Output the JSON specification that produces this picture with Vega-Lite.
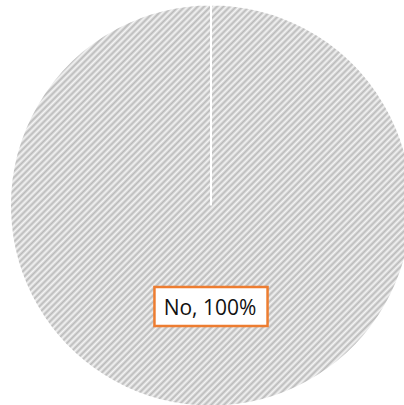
{
  "$schema": "https://vega.github.io/schema/vega-lite/v6.json",
  "autosize": {"type": "none"},
  "width": 386,
  "height": 399,
  "padding": {"left": 18, "top": 6, "right": 0, "bottom": 0},
  "background": "white",
  "config": {"view": {"stroke": null}},
  "data": {"values": [{"answer": "No", "share": 100, "label": "No, 100%"}]},
  "layer": [
    {
      "mark": {
        "type": "arc",
        "outerRadius": 201,
        "stroke": "white",
        "strokeWidth": 2,
        "fill": {
          "gradient": "linear",
          "x1": 0, "y1": 0, "x2": 1, "y2": 1,
          "stops": [
            {"offset": 0, "color": "#f4f4f4"},{"offset": 0.004, "color": "#bababa"},{"offset": 0.008, "color": "#f4f4f4"},{"offset": 0.012, "color": "#bababa"},{"offset": 0.016, "color": "#f4f4f4"},{"offset": 0.02, "color": "#bababa"},{"offset": 0.024, "color": "#f4f4f4"},{"offset": 0.028, "color": "#bababa"},{"offset": 0.032, "color": "#f4f4f4"},{"offset": 0.036, "color": "#bababa"},
            {"offset": 0.04, "color": "#f4f4f4"},{"offset": 0.044, "color": "#bababa"},{"offset": 0.048, "color": "#f4f4f4"},{"offset": 0.052, "color": "#bababa"},{"offset": 0.056, "color": "#f4f4f4"},{"offset": 0.06, "color": "#bababa"},{"offset": 0.064, "color": "#f4f4f4"},{"offset": 0.068, "color": "#bababa"},{"offset": 0.072, "color": "#f4f4f4"},{"offset": 0.076, "color": "#bababa"},
            {"offset": 0.08, "color": "#f4f4f4"},{"offset": 0.084, "color": "#bababa"},{"offset": 0.088, "color": "#f4f4f4"},{"offset": 0.092, "color": "#bababa"},{"offset": 0.096, "color": "#f4f4f4"},{"offset": 0.1, "color": "#bababa"},{"offset": 0.104, "color": "#f4f4f4"},{"offset": 0.108, "color": "#bababa"},{"offset": 0.112, "color": "#f4f4f4"},{"offset": 0.116, "color": "#bababa"},
            {"offset": 0.12, "color": "#f4f4f4"},{"offset": 0.124, "color": "#bababa"},{"offset": 0.128, "color": "#f4f4f4"},{"offset": 0.132, "color": "#bababa"},{"offset": 0.136, "color": "#f4f4f4"},{"offset": 0.14, "color": "#bababa"},{"offset": 0.144, "color": "#f4f4f4"},{"offset": 0.148, "color": "#bababa"},{"offset": 0.152, "color": "#f4f4f4"},{"offset": 0.156, "color": "#bababa"},
            {"offset": 0.16, "color": "#f4f4f4"},{"offset": 0.164, "color": "#bababa"},{"offset": 0.168, "color": "#f4f4f4"},{"offset": 0.172, "color": "#bababa"},{"offset": 0.176, "color": "#f4f4f4"},{"offset": 0.18, "color": "#bababa"},{"offset": 0.184, "color": "#f4f4f4"},{"offset": 0.188, "color": "#bababa"},{"offset": 0.192, "color": "#f4f4f4"},{"offset": 0.196, "color": "#bababa"},
            {"offset": 0.2, "color": "#f4f4f4"},{"offset": 0.204, "color": "#bababa"},{"offset": 0.208, "color": "#f4f4f4"},{"offset": 0.212, "color": "#bababa"},{"offset": 0.216, "color": "#f4f4f4"},{"offset": 0.22, "color": "#bababa"},{"offset": 0.224, "color": "#f4f4f4"},{"offset": 0.228, "color": "#bababa"},{"offset": 0.232, "color": "#f4f4f4"},{"offset": 0.236, "color": "#bababa"},
            {"offset": 0.24, "color": "#f4f4f4"},{"offset": 0.244, "color": "#bababa"},{"offset": 0.248, "color": "#f4f4f4"},{"offset": 0.252, "color": "#bababa"},{"offset": 0.256, "color": "#f4f4f4"},{"offset": 0.26, "color": "#bababa"},{"offset": 0.264, "color": "#f4f4f4"},{"offset": 0.268, "color": "#bababa"},{"offset": 0.272, "color": "#f4f4f4"},{"offset": 0.276, "color": "#bababa"},
            {"offset": 0.28, "color": "#f4f4f4"},{"offset": 0.284, "color": "#bababa"},{"offset": 0.288, "color": "#f4f4f4"},{"offset": 0.292, "color": "#bababa"},{"offset": 0.296, "color": "#f4f4f4"},{"offset": 0.3, "color": "#bababa"},{"offset": 0.304, "color": "#f4f4f4"},{"offset": 0.308, "color": "#bababa"},{"offset": 0.312, "color": "#f4f4f4"},{"offset": 0.316, "color": "#bababa"},
            {"offset": 0.32, "color": "#f4f4f4"},{"offset": 0.324, "color": "#bababa"},{"offset": 0.328, "color": "#f4f4f4"},{"offset": 0.332, "color": "#bababa"},{"offset": 0.336, "color": "#f4f4f4"},{"offset": 0.34, "color": "#bababa"},{"offset": 0.344, "color": "#f4f4f4"},{"offset": 0.348, "color": "#bababa"},{"offset": 0.352, "color": "#f4f4f4"},{"offset": 0.356, "color": "#bababa"},
            {"offset": 0.36, "color": "#f4f4f4"},{"offset": 0.364, "color": "#bababa"},{"offset": 0.368, "color": "#f4f4f4"},{"offset": 0.372, "color": "#bababa"},{"offset": 0.376, "color": "#f4f4f4"},{"offset": 0.38, "color": "#bababa"},{"offset": 0.384, "color": "#f4f4f4"},{"offset": 0.388, "color": "#bababa"},{"offset": 0.392, "color": "#f4f4f4"},{"offset": 0.396, "color": "#bababa"},
            {"offset": 0.4, "color": "#f4f4f4"},{"offset": 0.404, "color": "#bababa"},{"offset": 0.408, "color": "#f4f4f4"},{"offset": 0.412, "color": "#bababa"},{"offset": 0.416, "color": "#f4f4f4"},{"offset": 0.42, "color": "#bababa"},{"offset": 0.424, "color": "#f4f4f4"},{"offset": 0.428, "color": "#bababa"},{"offset": 0.432, "color": "#f4f4f4"},{"offset": 0.436, "color": "#bababa"},
            {"offset": 0.44, "color": "#f4f4f4"},{"offset": 0.444, "color": "#bababa"},{"offset": 0.448, "color": "#f4f4f4"},{"offset": 0.452, "color": "#bababa"},{"offset": 0.456, "color": "#f4f4f4"},{"offset": 0.46, "color": "#bababa"},{"offset": 0.464, "color": "#f4f4f4"},{"offset": 0.468, "color": "#bababa"},{"offset": 0.472, "color": "#f4f4f4"},{"offset": 0.476, "color": "#bababa"},
            {"offset": 0.48, "color": "#f4f4f4"},{"offset": 0.484, "color": "#bababa"},{"offset": 0.488, "color": "#f4f4f4"},{"offset": 0.492, "color": "#bababa"},{"offset": 0.496, "color": "#f4f4f4"},{"offset": 0.5, "color": "#bababa"},{"offset": 0.504, "color": "#f4f4f4"},{"offset": 0.508, "color": "#bababa"},{"offset": 0.512, "color": "#f4f4f4"},{"offset": 0.516, "color": "#bababa"},
            {"offset": 0.52, "color": "#f4f4f4"},{"offset": 0.524, "color": "#bababa"},{"offset": 0.528, "color": "#f4f4f4"},{"offset": 0.532, "color": "#bababa"},{"offset": 0.536, "color": "#f4f4f4"},{"offset": 0.54, "color": "#bababa"},{"offset": 0.544, "color": "#f4f4f4"},{"offset": 0.548, "color": "#bababa"},{"offset": 0.552, "color": "#f4f4f4"},{"offset": 0.556, "color": "#bababa"},
            {"offset": 0.56, "color": "#f4f4f4"},{"offset": 0.564, "color": "#bababa"},{"offset": 0.568, "color": "#f4f4f4"},{"offset": 0.572, "color": "#bababa"},{"offset": 0.576, "color": "#f4f4f4"},{"offset": 0.58, "color": "#bababa"},{"offset": 0.584, "color": "#f4f4f4"},{"offset": 0.588, "color": "#bababa"},{"offset": 0.592, "color": "#f4f4f4"},{"offset": 0.596, "color": "#bababa"},
            {"offset": 0.6, "color": "#f4f4f4"},{"offset": 0.604, "color": "#bababa"},{"offset": 0.608, "color": "#f4f4f4"},{"offset": 0.612, "color": "#bababa"},{"offset": 0.616, "color": "#f4f4f4"},{"offset": 0.62, "color": "#bababa"},{"offset": 0.624, "color": "#f4f4f4"},{"offset": 0.628, "color": "#bababa"},{"offset": 0.632, "color": "#f4f4f4"},{"offset": 0.636, "color": "#bababa"},
            {"offset": 0.64, "color": "#f4f4f4"},{"offset": 0.644, "color": "#bababa"},{"offset": 0.648, "color": "#f4f4f4"},{"offset": 0.652, "color": "#bababa"},{"offset": 0.656, "color": "#f4f4f4"},{"offset": 0.66, "color": "#bababa"},{"offset": 0.664, "color": "#f4f4f4"},{"offset": 0.668, "color": "#bababa"},{"offset": 0.672, "color": "#f4f4f4"},{"offset": 0.676, "color": "#bababa"},
            {"offset": 0.68, "color": "#f4f4f4"},{"offset": 0.684, "color": "#bababa"},{"offset": 0.688, "color": "#f4f4f4"},{"offset": 0.692, "color": "#bababa"},{"offset": 0.696, "color": "#f4f4f4"},{"offset": 0.7, "color": "#bababa"},{"offset": 0.704, "color": "#f4f4f4"},{"offset": 0.708, "color": "#bababa"},{"offset": 0.712, "color": "#f4f4f4"},{"offset": 0.716, "color": "#bababa"},
            {"offset": 0.72, "color": "#f4f4f4"},{"offset": 0.724, "color": "#bababa"},{"offset": 0.728, "color": "#f4f4f4"},{"offset": 0.732, "color": "#bababa"},{"offset": 0.736, "color": "#f4f4f4"},{"offset": 0.74, "color": "#bababa"},{"offset": 0.744, "color": "#f4f4f4"},{"offset": 0.748, "color": "#bababa"},{"offset": 0.752, "color": "#f4f4f4"},{"offset": 0.756, "color": "#bababa"},
            {"offset": 0.76, "color": "#f4f4f4"},{"offset": 0.764, "color": "#bababa"},{"offset": 0.768, "color": "#f4f4f4"},{"offset": 0.772, "color": "#bababa"},{"offset": 0.776, "color": "#f4f4f4"},{"offset": 0.78, "color": "#bababa"},{"offset": 0.784, "color": "#f4f4f4"},{"offset": 0.788, "color": "#bababa"},{"offset": 0.792, "color": "#f4f4f4"},{"offset": 0.796, "color": "#bababa"},
            {"offset": 0.8, "color": "#f4f4f4"},{"offset": 0.804, "color": "#bababa"},{"offset": 0.808, "color": "#f4f4f4"},{"offset": 0.812, "color": "#bababa"},{"offset": 0.816, "color": "#f4f4f4"},{"offset": 0.82, "color": "#bababa"},{"offset": 0.824, "color": "#f4f4f4"},{"offset": 0.828, "color": "#bababa"},{"offset": 0.832, "color": "#f4f4f4"},{"offset": 0.836, "color": "#bababa"},
            {"offset": 0.84, "color": "#f4f4f4"},{"offset": 0.844, "color": "#bababa"},{"offset": 0.848, "color": "#f4f4f4"},{"offset": 0.852, "color": "#bababa"},{"offset": 0.856, "color": "#f4f4f4"},{"offset": 0.86, "color": "#bababa"},{"offset": 0.864, "color": "#f4f4f4"},{"offset": 0.868, "color": "#bababa"},{"offset": 0.872, "color": "#f4f4f4"},{"offset": 0.876, "color": "#bababa"},
            {"offset": 0.88, "color": "#f4f4f4"},{"offset": 0.884, "color": "#bababa"},{"offset": 0.888, "color": "#f4f4f4"},{"offset": 0.892, "color": "#bababa"},{"offset": 0.896, "color": "#f4f4f4"},{"offset": 0.9, "color": "#bababa"},{"offset": 0.904, "color": "#f4f4f4"},{"offset": 0.908, "color": "#bababa"},{"offset": 0.912, "color": "#f4f4f4"},{"offset": 0.916, "color": "#bababa"},
            {"offset": 0.92, "color": "#f4f4f4"},{"offset": 0.924, "color": "#bababa"},{"offset": 0.928, "color": "#f4f4f4"},{"offset": 0.932, "color": "#bababa"},{"offset": 0.936, "color": "#f4f4f4"},{"offset": 0.94, "color": "#bababa"},{"offset": 0.944, "color": "#f4f4f4"},{"offset": 0.948, "color": "#bababa"},{"offset": 0.952, "color": "#f4f4f4"},{"offset": 0.956, "color": "#bababa"},
            {"offset": 0.96, "color": "#f4f4f4"},{"offset": 0.964, "color": "#bababa"},{"offset": 0.968, "color": "#f4f4f4"},{"offset": 0.972, "color": "#bababa"},{"offset": 0.976, "color": "#f4f4f4"},{"offset": 0.98, "color": "#bababa"},{"offset": 0.984, "color": "#f4f4f4"},{"offset": 0.988, "color": "#bababa"},{"offset": 0.992, "color": "#f4f4f4"},{"offset": 0.996, "color": "#bababa"},
            {"offset": 1, "color": "#f4f4f4"}
          ]
        }
      },
      "encoding": {
        "theta": {"field": "share", "type": "quantitative", "stack": true, "scale": {"range": [0, 6.2831]}}
      }
    },
    {
      "mark": {
        "type": "point",
        "shape": "M-1.45,-0.5H1.45V0.5H-1.45Z",
        "size": 6084,
        "filled": true,
        "fill": "white",
        "stroke": "#ED7D31",
        "strokeWidth": 2.5,
        "opacity": 1
      },
      "encoding": {
        "x": {"datum": 0, "type": "quantitative", "scale": {"domain": [-1, 1], "nice": false, "zero": false}, "axis": null},
        "y": {"datum": -0.506, "type": "quantitative", "scale": {"domain": [-1, 1], "nice": false, "zero": false}, "axis": null}
      }
    },
    {
      "mark": {
        "type": "text",
        "font": "Open Sans",
        "fontSize": 21,
        "color": "#111111",
        "baseline": "middle",
        "align": "center",
        "dy": 3,
        "dx": -1
      },
      "encoding": {
        "text": {"field": "label", "type": "nominal"},
        "x": {"datum": 0, "type": "quantitative", "scale": {"domain": [-1, 1], "nice": false, "zero": false}, "axis": null},
        "y": {"datum": -0.506, "type": "quantitative", "scale": {"domain": [-1, 1], "nice": false, "zero": false}, "axis": null}
      }
    }
  ]
}
